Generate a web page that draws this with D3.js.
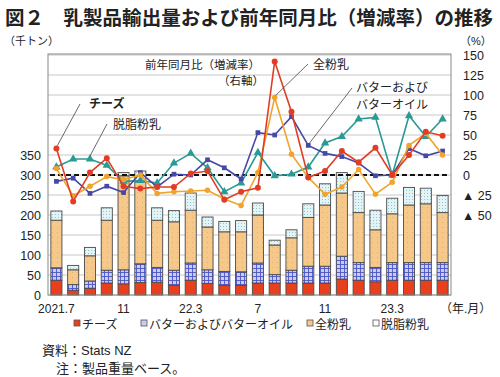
<!DOCTYPE html>
<html>
<head>
<meta charset="utf-8">
<script src="https://cdn.jsdelivr.net/npm/d3@7"></script>
<style>
  body { margin: 0; background: #fff; }
  text { font-family: "Liberation Sans", "Noto Sans CJK JP", sans-serif; fill: #222; }
</style>
</head>
<body>
<div id="chart"></div>
<script>
// months, 2021.7 .. 2023.6
var months = ["2021.7","8","9","10","11","12","22.1","2","3","4","5","6",
              "7","8","9","10","11","12","23.1","2","3","4","5","6"];
var tickLabels = {0:"2021.7", 4:"11", 8:"22.3", 12:"7", 16:"11", 20:"23.3"};

// export volume (thousand tonnes)
var cheese = [37,12,17,30,28,31,32,24,37,29,24,24,30,30,30,30,30,40,37,33,37,37,37,37];
var butter = [31,14,18,32,35,47,37,38,43,34,35,34,50,21,32,42,42,57,44,36,44,44,44,44];
var wmp    = [119,37,63,125,235,205,118,121,132,107,99,100,120,74,81,122,153,158,125,94,122,144,147,125];
var smp    = [23,11,21,31,8,27,31,28,43,25,26,28,30,12,20,34,53,51,53,49,39,44,39,43];

// year-on-year change (%)
var cheeseYoY = [33,-33,3,21,-14,-17,-15,-15,2,5,-31,-21,-16,142,79,-3,5,30,16,34,0,25,54,49];
var butterYoY = [-8,-4,-23,-14,-22,3,-15,1,0,19,9,-5,53,50,73,37,27,23,15,-1,0,33,24,30];
var wmpYoY    = [8,-26,-14,-2,-6,0,-23,-21,-20,-19,-30,-38,3,97,26,-3,-24,-15,7,-24,-9,37,52,25];
var smpYoY    = [10,20,20,12,-8,-7,-10,15,27,9,-21,-10,28,-1,1,10,40,48,70,72,0,74,48,70];

var leftTicks = [0,50,100,150,200,250,300,350];
var rightTicks = [150,125,100,75,50,25,0,-25,-50];

var W = 500, H = 377;
var svg = d3.select("#chart").append("svg").attr("width", W).attr("height", H);

var plot = { left: 48, right: 451, top: 55, bottom: 295 };

var x = d3.scaleBand().domain(d3.range(months.length))
    .range([plot.left, plot.right]).paddingInner(0.34).paddingOuter(0.17);
var yL = d3.scaleLinear().domain([0, 600]).range([plot.bottom, plot.top]);
var yR = d3.scaleLinear().domain([-150, 150]).range([plot.bottom, plot.top]);

// patterns
var defs = svg.append("defs");
var pb = defs.append("pattern").attr("id","pButter").attr("patternUnits","userSpaceOnUse")
    .attr("width",4).attr("height",4);
pb.append("rect").attr("width",4).attr("height",4).attr("fill","#c9ccf0");
pb.append("path").attr("d","M0,0.5H4M0.5,0V4").attr("stroke","#4b55c4").attr("stroke-width",0.9);
var pw = defs.append("pattern").attr("id","pWmp").attr("patternUnits","userSpaceOnUse")
    .attr("width",5).attr("height",5);
pw.append("rect").attr("width",5).attr("height",5).attr("fill","#f6c98a");
pw.append("rect").attr("x",2).attr("y",2).attr("width",0.8).attr("height",0.8).attr("fill","#d9a25e");
var ps = defs.append("pattern").attr("id","pSmp").attr("patternUnits","userSpaceOnUse")
    .attr("width",3).attr("height",3);
ps.append("rect").attr("width",3).attr("height",3).attr("fill","#e4f4f6");
ps.append("rect").attr("x",1).attr("y",1).attr("width",1).attr("height",1).attr("fill","#8cc8d2");

// title
svg.append("text").attr("x", 5).attr("y", 25)
    .style("font-size","19.5px").style("font-weight","bold")
    .style("font-family","'Noto Sans CJK JP', sans-serif")
    .attr("textLength", 488).attr("lengthAdjust", "spacing")
    .text("図２　乳製品輸出量および前年同月比（増減率）の推移");

svg.append("text").attr("x", 4).attr("y", 45).style("font-size","11px").text("（千トン）");
svg.append("text").attr("x", 460).attr("y", 45).style("font-size","11px").text("（%）");

// grid
svg.append("g").selectAll("line").data(d3.range(0, 650, 50)).join("line")
    .attr("x1", plot.left).attr("x2", plot.right)
    .attr("y1", function(d){ return yL(d); }).attr("y2", function(d){ return yL(d); })
    .attr("stroke", "#c8c8c8").attr("stroke-width", 1);

// stacked bars
var series = [
  { vals: cheese, fill: "#e8401c" },
  { vals: butter, fill: "url(#pButter)" },
  { vals: wmp,    fill: "url(#pWmp)" },
  { vals: smp,    fill: "url(#pSmp)" }
];
var barG = svg.append("g");
months.forEach(function(m, i){
  var base = 0;
  series.forEach(function(s){
    var v = s.vals[i];
    barG.append("rect")
      .attr("x", x(i)).attr("width", x.bandwidth())
      .attr("y", yL(base + v)).attr("height", yL(base) - yL(base + v))
      .attr("fill", s.fill).attr("stroke", "#4a4a4a").attr("stroke-width", 0.9);
    base += v;
  });
});

// frame
svg.append("rect").attr("x", plot.left).attr("y", plot.top - 1)
    .attr("width", plot.right - plot.left).attr("height", plot.bottom - plot.top + 1)
    .attr("fill", "none").attr("stroke", "#888").attr("stroke-width", 1);

// zero line (right axis)
svg.append("line").attr("x1", plot.left + 2).attr("x2", plot.right - 2)
    .attr("y1", yR(0)).attr("y2", yR(0))
    .attr("stroke", "#111").attr("stroke-width", 1.8).attr("stroke-dasharray", "5,3");

// axes labels
svg.append("g").selectAll("text").data(leftTicks).join("text")
    .attr("x", 41).attr("y", function(d){ return yL(d) + 4.5; })
    .attr("text-anchor", "end").style("font-size", "12.5px")
    .text(function(d){ return d; });

svg.append("g").selectAll("text").data(rightTicks).join("text")
    .attr("x", function(d){ return d < 0 ? 462 : 463; })
    .attr("y", function(d){ return yR(d) + 4.5; })
    .style("font-size", "12.5px")
    .text(function(d){ return d < 0 ? "▲ " + (-d) : d; });

svg.append("g").selectAll("text").data(d3.range(months.length).filter(function(i){ return tickLabels[i]; }))
    .join("text")
    .attr("x", function(i){ return x(i) + x.bandwidth() / 2; })
    .attr("y", 313).attr("text-anchor", "middle").style("font-size", "12px")
    .text(function(i){ return tickLabels[i]; });
svg.append("text").attr("x", 440).attr("y", 313).style("font-size", "12px").text("（年.月）");

// lines
var lineSeries = [
  { vals: smpYoY,    color: "#2a9a94", shape: d3.symbolTriangle, size: 30 },
  { vals: butterYoY, color: "#4648a6", shape: d3.symbolSquare,   size: 22 },
  { vals: wmpYoY,    color: "#f0a42c", shape: d3.symbolCircle,   size: 24 },
  { vals: cheeseYoY, color: "#e23c24", shape: d3.symbolCircle,   size: 28 }
];
var line = d3.line()
    .x(function(d, i){ return x(i) + x.bandwidth() / 2; })
    .y(function(d){ return yR(d); });
lineSeries.forEach(function(s){
  var g = svg.append("g");
  g.append("path").datum(s.vals).attr("d", line)
    .attr("fill", "none").attr("stroke", s.color).attr("stroke-width", 1.6);
  g.selectAll("path.m").data(s.vals).join("path").attr("class", "m")
    .attr("transform", function(d, i){ return "translate(" + (x(i) + x.bandwidth() / 2) + "," + yR(d) + ")"; })
    .attr("d", d3.symbol().type(s.shape).size(s.size))
    .attr("fill", s.color);
});

// annotations
svg.append("text").attr("x", 145).attr("y", 69).style("font-size", "11.5px").text("前年同月比（増減率）");
svg.append("text").attr("x", 218).attr("y", 85).style("font-size", "11.5px").text("（右軸）");

var ann = svg.append("g").style("font-size", "12px");
ann.append("text").attr("x", 89).attr("y", 108).style("font-weight", "bold").text("チーズ");
ann.append("text").attr("x", 113).attr("y", 129).text("脱脂粉乳");
ann.append("text").attr("x", 313).attr("y", 69).text("全粉乳");
ann.append("text").attr("x", 356).attr("y", 92).text("バターおよび");
ann.append("text").attr("x", 356).attr("y", 109).text("バターオイル");

var leader = [
  [[80, 104], [x(0) + x.bandwidth()/2 + 1, yR(cheeseYoY[0]) - 3]],
  [[107, 124], [x(2) + x.bandwidth()/2, yR(smpYoY[2]) - 3]],
  [[308, 64], [x(13) + x.bandwidth()/2 + 1, yR(wmpYoY[13]) - 2]],
  [[352, 88], [x(15) + x.bandwidth()/2 + 1, yR(butterYoY[15]) - 2]]
];
leader.forEach(function(l){
  svg.append("line").attr("x1", l[0][0]).attr("y1", l[0][1]).attr("x2", l[1][0]).attr("y2", l[1][1])
    .attr("stroke", "#444").attr("stroke-width", 0.8);
});

// legend
var legend = [
  { name: "チーズ", fill: "#e8401c", x: 74 },
  { name: "バターおよびバターオイル", fill: "#c9ccf0", x: 141 },
  { name: "全粉乳", fill: "#f6c98a", x: 307 },
  { name: "脱脂粉乳", fill: "#ffffff", x: 373 }
];
var lg = svg.append("g");
legend.forEach(function(d){
  lg.append("rect").attr("x", d.x).attr("y", 320).attr("width", 6).attr("height", 6)
    .attr("fill", d.fill).attr("stroke", "#555").attr("stroke-width", 0.8);
  lg.append("text").attr("x", d.x + 8).attr("y", 329).style("font-size", "12px").text(d.name);
});

svg.append("text").attr("x", 42).attr("y", 355).style("font-size", "13px").text("資料：Stats NZ");
svg.append("text").attr("x", 56).attr("y", 373).style("font-size", "13px").text("注：製品重量ベース。");
</script>
</body>
</html>
